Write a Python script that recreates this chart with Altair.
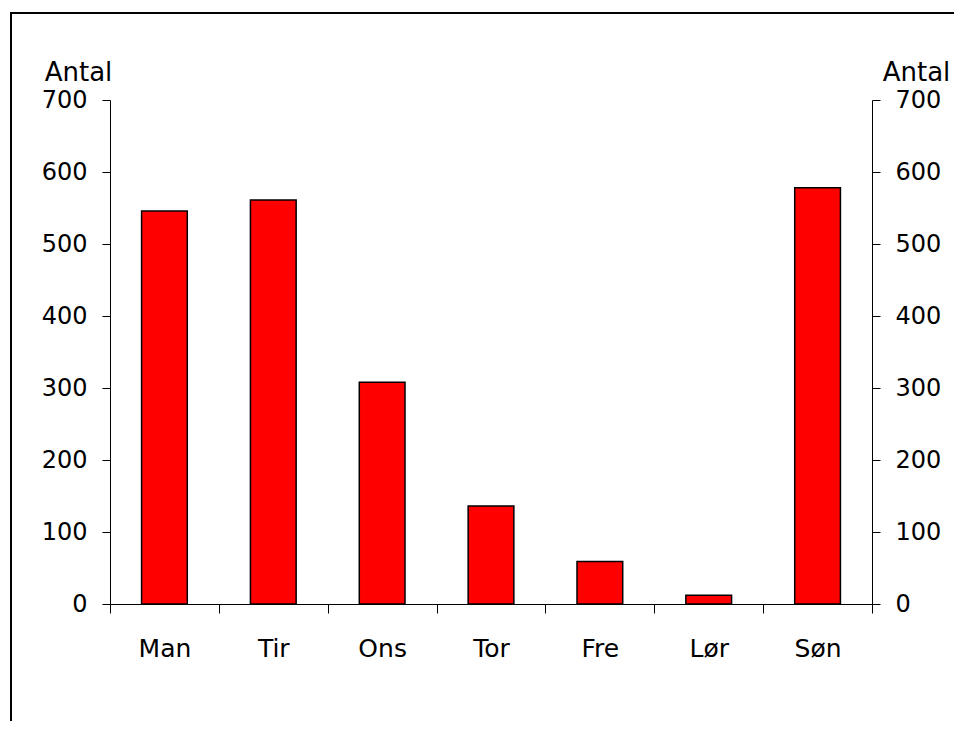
import altair as alt
import pandas as pd

days = ["Man", "Tir", "Ons", "Tor", "Fre", "Lør", "Søn"]
counts = [546, 561, 308, 136, 59, 12, 578]
y_ticks = [0, 100, 200, 300, 400, 500, 600, 700]
axis_title = "Antal"

df = pd.DataFrame({"dag": days, "antal": counts})
frame_df = pd.DataFrame({"k": [0]})

FONT = "DejaVu Sans"
W, H = 762, 504

x_enc = alt.X(
    "dag:N",
    sort=days,
    scale=alt.Scale(paddingInner=0, paddingOuter=0),
    axis=alt.Axis(
        title=None,
        labelAngle=0,
        labelFontSize=25,
        labelFont=FONT,
        labelColor="black",
        labelPadding=23,
        tickBand="extent",
        tickSize=9,
        tickColor="black",
        tickWidth=1,
        domainColor="black",
        domainWidth=1,
        grid=False,
    ),
)

def y_axis(orient, title_x):
    return alt.Axis(
        orient=orient,
        values=y_ticks,
        title=axis_title,
        titleAngle=0,
        titleX=title_x,
        titleY=-20,
        titleAlign="center",
        titleBaseline="alphabetic",
        titleFont=FONT,
        titleFontSize=26,
        titleFontWeight="normal",
        titleColor="black",
        labelFont=FONT,
        labelFontSize=24,
        labelColor="black",
        labelPadding=15,
        tickSize=8,
        tickColor="black",
        tickWidth=1,
        domainColor="black",
        domainWidth=1,
        grid=False,
    )

yscale = alt.Scale(domain=[0, 700], nice=False)

bars = alt.Chart(df).mark_bar(
    fill="#FF0000", stroke="black", strokeWidth=1.5,
    width=alt.RelativeBandSize(0.42),
).encode(
    x=x_enc,
    y=alt.Y("antal:Q", scale=yscale, axis=y_axis("left", -32)),
)

right = alt.Chart(df).mark_bar(opacity=0, width=alt.RelativeBandSize(0.42)).encode(
    x=x_enc,
    y=alt.Y("antal:Q", scale=yscale, axis=y_axis("right", 44)),
)

frame_v = alt.Chart(frame_df).mark_rule(color="black", strokeWidth=2).encode(
    x=alt.value(-99), y=alt.value(-88), y2=alt.value(625)
)
frame_h = alt.Chart(frame_df).mark_rule(color="black", strokeWidth=2).encode(
    x=alt.value(-100), x2=alt.value(850), y=alt.value(-87)
)

chart = alt.layer(bars, right, frame_v, frame_h).resolve_axis(
    y="independent"
).properties(
    width=W,
    height=H,
    background="white",
    autosize=alt.AutoSizeParams(type="none"),
    padding={"left": 102, "top": 92, "right": 82, "bottom": 117},
).configure_view(stroke=None)

chart.save("out.html", embed_options={"renderer": "svg", "actions": False})
